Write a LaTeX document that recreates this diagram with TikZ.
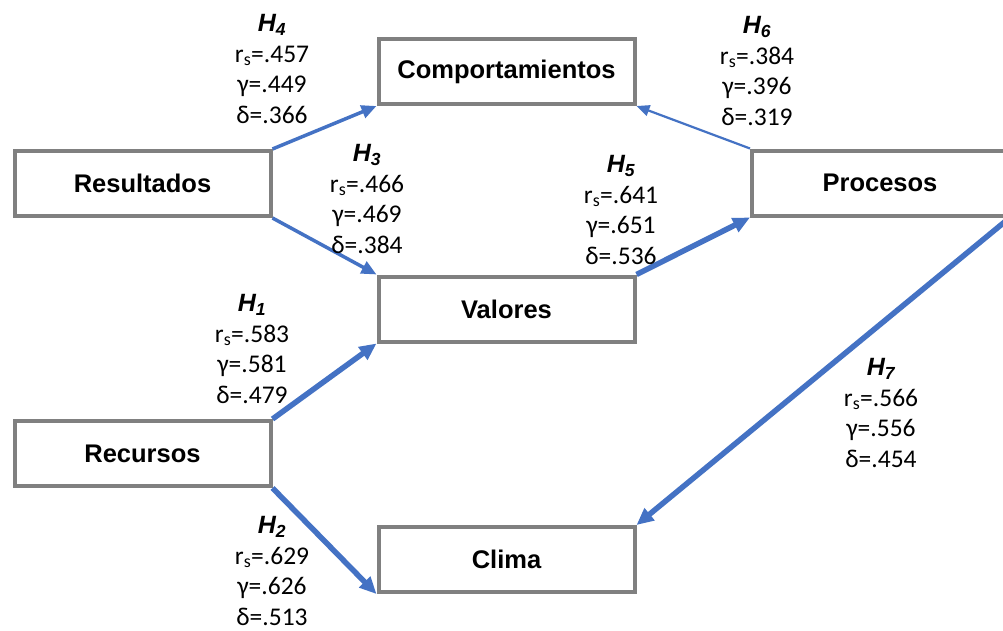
\documentclass[tikz,border=0pt]{standalone}
\usepackage{fontspec}
\setmainfont{Carlito}
\setsansfont{Liberation Sans}
\usetikzlibrary{arrows.meta}

\definecolor{boxgray}{RGB}{128,128,128}
\definecolor{linkblue}{RGB}{68,114,196}

\newcommand{\hyplabel}[4]{{\sffamily\bfseries\itshape\fontsize{25}{30}\selectfont H\textsubscript{#1}}\\r\textsubscript{s}=.#2\\γ=.#3\\δ=.#4}

\tikzset{
  box/.style={draw=boxgray, line width=4pt, minimum width=256pt, minimum height=65pt,
    inner sep=0pt, font=\sffamily\bfseries\fontsize{25.5}{28}\selectfont},
  link/.style={draw=linkblue, line width=5.5pt, -{Triangle[length=17pt,width=15pt]}},
  midlink/.style={draw=linkblue, line width=3.5pt, -{Triangle[length=15pt,width=13pt]}},
  thinlink/.style={draw=linkblue, line width=2.2pt, -{Triangle[length=13pt,width=11pt]}},
  hyp/.style={align=center, inner sep=0pt, font=\fontsize{25.5}{30.5}\selectfont}
}

\begin{document}
\begin{tikzpicture}[x=1pt, y=-1pt]
\useasboundingbox (0,0) rectangle (1003,630);
\fill[white] (0,0) rectangle (1003,630);

\node[box] (comp) at (506.5,71.5) {Comportamientos};
\node[box] (res) at (142.5,183.5) {Resultados};
\node[box] (proc) at (880,183) {Procesos};
\node[box] (val) at (506.5,309) {Valores};
\node[box] (rec) at (142.5,453.5) {Recursos};
\node[box] (clima) at (506.5,559.5) {Clima};

\draw[midlink] (res.north east) -- (comp.south west);
\draw[midlink] (res.south east) -- (val.north west);
\draw[link] (val.north east) -- (proc.south west);
\draw[thinlink] (proc.north west) -- (comp.south east);
\draw[link] (rec.north east) -- (val.south west);
\draw[link] (rec.south east) -- (clima.south west);
\draw[link] (proc.south east) -- (clima.north east);

\node[hyp] (h4) at (272,69) {\hyplabel{4}{457}{449}{366}};
\node[hyp] (h6) at (757,71) {\hyplabel{6}{384}{396}{319}};
\node[hyp] (h3) at (367,199) {\hyplabel{3}{466}{469}{384}};
\node[hyp] (h5) at (621,210) {\hyplabel{5}{641}{651}{536}};
\node[hyp] (h1) at (252,349) {\hyplabel{1}{583}{581}{479}};
\node[hyp] (h7) at (881,413) {\hyplabel{7}{566}{556}{454}};
\node[hyp] (h2) at (272,571) {\hyplabel{2}{629}{626}{513}};
\end{tikzpicture}
\end{document}
